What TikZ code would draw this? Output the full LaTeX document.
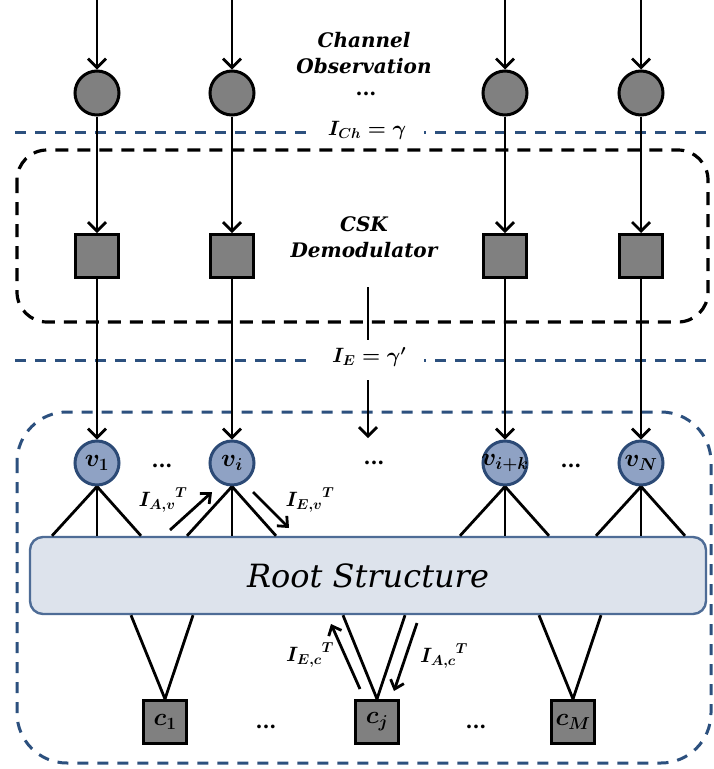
\documentclass[tikz,border=0pt]{standalone}
\usepackage{fontspec}
\usepackage{amsmath}
\setmainfont{DejaVu Serif}
\usetikzlibrary{arrows.meta,calc}
\definecolor{dblue}{RGB}{44,80,126}
\definecolor{vfill}{RGB}{143,162,196}
\definecolor{vdraw}{RGB}{44,74,118}
\definecolor{rootfill}{RGB}{221,227,236}
\definecolor{rootdraw}{RGB}{78,108,150}
\definecolor{boxgray}{RGB}{128,128,128}
\begin{document}
\begin{tikzpicture}[x=1pt,y=-1pt,
  obs/.style={circle,draw=black,fill=boxgray,line width=3pt,minimum size=44pt,inner sep=0pt},
  demod/.style={rectangle,draw=black,fill=boxgray,line width=3pt,minimum size=43pt,inner sep=0pt},
  var/.style={circle,draw=vdraw,fill=vfill,line width=3pt,minimum size=44pt,inner sep=0pt,
    label={[font=\fontsize{25}{28}\selectfont\boldmath,inner sep=0pt]center:#1}},
  chk/.style={rectangle,draw=black,fill=boxgray,line width=3pt,minimum size=43pt,inner sep=0pt,font=\fontsize{24}{28}\selectfont\boldmath},
  flow/.style={line width=2.8pt,-{Straight Barb[length=9pt,width=18pt,line width=2.8pt]}},
  sflow/.style={line width=2.8pt,-{Straight Barb[length=8pt,width=14pt,line width=2.8pt]}},
  edge/.style={line width=2.8pt},
  lbl/.style={font=\fontsize{20}{26}\selectfont\bfseries\itshape,align=center},
  mlbl/.style={font=\fontsize{20}{22}\selectfont\boldmath},
  dots/.style={font=\fontsize{20}{20}\selectfont\bfseries},
  bdash/.style={draw=dblue,line width=3pt,dash pattern=on 11pt off 9pt},
  kdash/.style={draw=black,line width=3.2pt,dash pattern=on 13pt off 9pt}
]
\useasboundingbox (0,0) rectangle (713,769);
\fill[white] (0,0) rectangle (713,769);

% frames
\draw[kdash,rounded corners=30pt] (17,150) rectangle (708,322);
\draw[bdash,rounded corners=50pt] (17,412) rectangle (711,763);
\draw[bdash] (15,132) -- (708,132);
\draw[bdash] (15,360) -- (708,360);

% labels on the top
\node[lbl] (chobs) at (364,53) {Channel\\Observation};
\node[dots] (topdots) at (366,94) {...};
\node[mlbl,fill=white,inner xsep=18pt] (ich) at (367,130) {$I_{Ch}=\gamma$};
\node[lbl] (csk) at (364,237) {CSK\\Demodulator};
\node[mlbl,fill=white,inner xsep=18pt] (ie) at (369,357) {$I_{E}=\gamma'$};

% observation circles
\node[obs] (o1) at (97,93) {};
\node[obs] (o2) at (232,93) {};
\node[obs] (o3) at (505,93) {};
\node[obs] (o4) at (641,93) {};
% demod squares
\node[demod] (d1) at (97,256) {};
\node[demod] (d2) at (232,256) {};
\node[demod] (d3) at (505,256) {};
\node[demod] (d4) at (641,256) {};
% variable nodes
\node[var={$v_1$}] (v1) at (97,463) {};
\node[var={$v_i$}] (v2) at (232,463) {};
\node[var={$v_{i+k}$}] (v3) at (505,463) {};
\node[var={$v_N$}] (v4) at (641,463) {};
% root
\node[draw=rootdraw,fill=rootfill,line width=2.4pt,rounded corners=13pt,minimum width=676pt,minimum height=77pt,inner sep=0pt,
  font=\fontsize{32}{34}\selectfont\itshape] (root) at (368,575.5) {Root Structure};
% check nodes
\node[chk] (c1) at (165,722) {$c_1$};
\node[chk] (c2) at (377,722) {$c_j$};
\node[chk] (c3) at (573,722) {$c_M$};

% top arrows
\foreach \i/\x in {1/97,2/232,3/505,4/641}{
  \coordinate (t\i) at (\x,0);
  \draw[flow] (t\i) -- (o\i);
  \draw[flow] (o\i) -- (d\i);
  \draw[flow] (d\i) -- (v\i);
}
% middle connector
\coordinate (m1) at (368,287);
\coordinate (m2) at (368,340);
\coordinate (m3) at (368,380);
\coordinate (m4) at (368,438);
\draw[edge] (m1) -- (m2);
\draw[flow] (m3) -- (m4);

% dots
\node[dots] (dv1) at (162,466) {...};
\node[dots] (dv2) at (374,463) {...};
\node[dots] (dv3) at (571,466) {...};
\node[dots] (dc1) at (266,727) {...};
\node[dots] (dc2) at (476,727) {...};

% variable-root edges
\foreach \i in {1,2,3,4}{
  \draw[edge] (v\i.south) -- ($(v\i.south |- root.north)+(-45,0)$);
  \draw[edge] (v\i.south) -- (v\i.south |- root.north);
  \draw[edge] (v\i.south) -- ($(v\i.south |- root.north)+(44,0)$);
}
% check-root edges
\foreach \i in {1,2,3}{
  \draw[edge] (c\i.north) -- ($(c\i.north |- root.south)+(-34,0)$);
  \draw[edge] (c\i.north) -- ($(c\i.north |- root.south)+(28,0)$);
}

% message arrows
\coordinate (av1) at (170,530);
\coordinate (av2) at (212,492);
\draw[sflow] (av1) -- (av2);
\coordinate (ev1) at (253,492);
\coordinate (ev2) at (289,528);
\draw[sflow] (ev1) -- (ev2);
\coordinate (ec1) at (360,689);
\coordinate (ec2) at (331,624);
\draw[sflow] (ec1) -- (ec2);
\coordinate (ac1) at (417,623);
\coordinate (ac2) at (394,691);
\draw[sflow] (ac1) -- (ac2);

\node[mlbl] (lav) at (163,500) {${I_{A,v}}^{T}$};
\node[mlbl] (lev) at (310,500) {${I_{E,v}}^{T}$};
\node[mlbl] (lec) at (310,655) {${I_{E,c}}^{T}$};
\node[mlbl] (lac) at (444,656) {${I_{A,c}}^{T}$};
\end{tikzpicture}
\end{document}
